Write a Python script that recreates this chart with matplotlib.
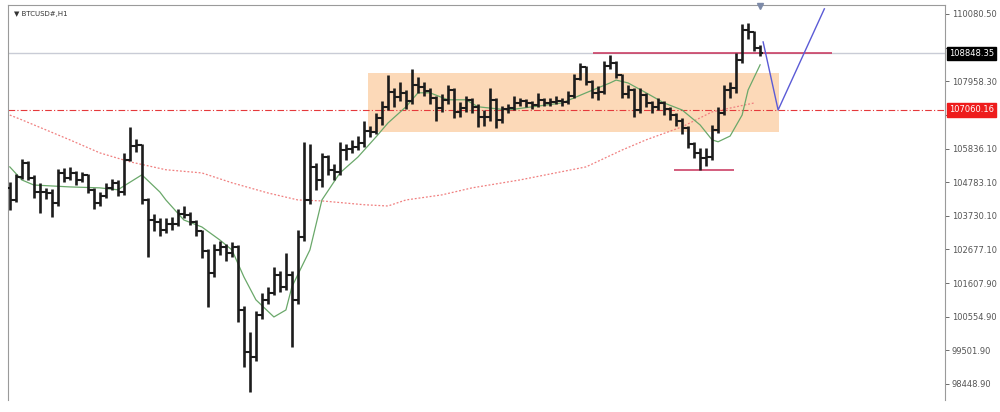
import matplotlib
matplotlib.use("Agg")
import matplotlib.pyplot as plt
import matplotlib.patches as patches
import matplotlib.transforms as mtransforms
import numpy as np

# H1 bars (open of each bar = previous close)
first_open = 104600
closes = [104230, 104960, 105400, 104920, 104480, 104470, 104450, 104140, 105080, 104920,
          105080, 104860, 105020, 104550, 104140, 104360, 104610, 104770, 104480, 105490,
          105930, 105960, 104230, 103600, 103540, 103290, 103480, 103460, 103790, 103770,
          103540, 103260, 102630, 101940, 102660, 102750, 102570, 102750, 100770, 99450,
          99300, 100620, 101090, 101310, 101870, 101500, 101870, 101090, 103070, 104230,
          105270, 104860, 105580, 105180, 105110, 105800, 105840, 105900, 106020, 106400,
          106380, 106810, 107160, 107630, 107470, 107600, 107340, 107850, 107790, 107660,
          107440, 107120, 107380, 107690, 107000, 107120, 107380, 107160, 106840, 106830,
          107380, 106750, 107090, 107120, 107280, 107340, 107280, 107220, 107380, 107280,
          107310, 107340, 107310, 107500, 108040, 108410, 107940, 107600, 107630, 108450,
          108540, 108160, 107570, 107690, 107060, 107530, 107280, 107160, 107270, 107090,
          106900, 106720, 106500, 105990, 105710, 105550, 105580, 106430, 106970, 107690,
          107750, 108630, 109580, 109510, 109010, 108850]
highs = [104800, 105050, 105520, 105460, 105000, 104750, 104620, 104560, 105200, 105250,
         105280, 105150, 105120, 105060, 104600, 104480, 104750, 104880, 104850, 105700,
         106530, 106150, 106000, 104300, 103800, 103650, 103650, 103700, 103950, 104050,
         103850, 103600, 103300, 102700, 102850, 102950, 102850, 102900, 102800, 100900,
         100080, 100750, 101300, 101500, 102130, 102000, 102570, 102000, 103300, 106050,
         106000, 105400, 105700, 105650, 105350, 106050, 106000, 106100, 106250, 106700,
         106550, 106950, 107350, 108150, 107750, 107950, 107700, 108350, 108100, 107950,
         107750, 107500, 107550, 107850, 107750, 107300, 107500, 107450, 107250, 107050,
         107750, 107450, 107200, 107250, 107500, 107450, 107400, 107350, 107600, 107450,
         107450, 107500, 107450, 107650, 108200, 108540, 108450, 108000, 107800, 108600,
         108790, 108600, 108200, 107850, 107750, 107750, 107600, 107350, 107450, 107350,
         107150, 106950, 106810, 106550, 106050, 105850, 105850, 106600, 107150, 107850,
         107950, 108850, 109750, 109780, 109550, 109100]
lows = [103900, 104180, 104900, 104850, 104300, 103830, 104250, 103700, 104050, 104800,
        104850, 104700, 104780, 104450, 103950, 104050, 104300, 104550, 104350, 104400,
        105450, 105750, 104100, 102440, 103250, 103100, 103200, 103300, 103400, 103650,
        103450, 103100, 102400, 100870, 101800, 102500, 102300, 102450, 100400, 98980,
        98200, 99150, 100500, 100950, 101250, 101350, 101400, 99610, 100950, 102950,
        104100, 104550, 104640, 105000, 104850, 105000, 105500, 105700, 105800, 105900,
        106200, 106300, 106600, 107050, 107150, 107350, 107100, 107250, 107600, 107500,
        107250, 106700, 107000, 107250, 106800, 106850, 107000, 106950, 106530, 106550,
        106700, 106500, 106650, 106950, 107050, 107200, 107150, 107100, 107150, 107200,
        107200, 107250, 107200, 107250, 107450, 108000, 107850, 107450, 107370, 107550,
        108350, 108050, 107450, 107450, 106840, 106950, 107150, 106950, 107050, 106900,
        106750, 106550, 106300, 105850, 105550, 105180, 105300, 105500, 106350, 106900,
        107450, 107600, 108550, 109300, 108900, 108750]

# moving averages (bar index, price)
ma_fast_idx = [0, 2, 4, 10, 15, 18, 22, 25, 26, 29, 32, 35, 37, 39, 41, 44, 46, 47, 50, 52, 55,
               58, 61, 63, 66, 68, 70, 73, 76, 78, 83, 92, 96, 100, 101, 103, 106, 109, 112,
               115, 117, 118, 120, 122, 123, 125]
ma_fast = [105270, 104860, 104700, 104640, 104610, 104550, 105020, 104480, 104230, 103600,
           103380, 102970, 102660, 101810, 101090, 100550, 100770, 101500, 102660, 104230,
           105080, 105580, 106210, 106650, 107160, 107600, 107600, 107380, 107380, 107160,
           107060, 107280, 107600, 107910, 108000, 107910, 107600, 107280, 107060, 106590,
           106120, 106060, 106240, 106900, 107690, 108480]
ma_slow_idx = [0, 2, 10, 15, 20, 26, 32, 37, 43, 48, 52, 59, 63, 66, 72, 77, 85, 96, 102,
               106, 112, 117, 124]
ma_slow = [106900, 106750, 106120, 105710, 105430, 105180, 105080, 104770, 104450, 104230,
           104200, 104080, 104040, 104230, 104390, 104610, 104860, 105270, 105800, 106120,
           106530, 107000, 107280]

# levels and drawings
bid = 108848.35
level_red = 107060.16
resistance = 108850
support = 105175
zone_top, zone_bottom = 108225, 106370
proj_idx = [125.5, 128, 135.7]
proj_px = [109200, 107060, 110240]
ticks = [110080.50, 109011.30, 107958.30, 106905.20, 105836.10, 104783.10,
         103730.10, 102677.10, 101607.90, 100554.90, 99501.90, 98448.90]
hidden = [109011.30, 106905.20]   # covered by the price boxes

fig = plt.figure(figsize=(10, 4.12), dpi=100)
ax = fig.add_axes([0.008, 0.03, 0.937, 0.958])

n = len(closes)
x = np.arange(n)
opens = [first_open] + closes[:-1]

ax.add_patch(patches.Rectangle((59.7, zone_bottom), 128.2 - 59.7, zone_top - zone_bottom,
                               facecolor="#fcd9b8", edgecolor="none", zorder=1))

ax.axhline(bid, color="#c9ccd6", lw=1, zorder=2)
ax.axhline(level_red, color="#e5393b", lw=0.8, ls=(0, (6, 2, 1, 2)), zorder=2)
ax.hlines(resistance, 97.2, 137, color="#c8325a", lw=1.1, zorder=3)
ax.hlines(support, 110.7, 120.7, color="#c8325a", lw=1.1, zorder=3)

ax.plot(ma_slow_idx, ma_slow, color="#f07f7f", lw=0.9, ls=(0, (1.5, 1.5)), zorder=3)
ax.plot(ma_fast_idx, ma_fast, color="#6aa86a", lw=0.9, zorder=4)

# bar chart
ax.vlines(x, lows, highs, color="#1c1c1c", lw=1.9, zorder=5)
ax.hlines(opens, x - 0.45, x, color="#1c1c1c", lw=1.5, zorder=5)
ax.hlines(closes, x, x + 0.45, color="#1c1c1c", lw=1.5, zorder=5)

ax.plot(proj_idx, proj_px, color="#5b5bd6", lw=1, zorder=6)
ax.plot([125], [110330], marker="v", color="#7d8aa8", markersize=5, clip_on=False, zorder=7)

ax.set_xlim(-0.3, 155.8)
ax.set_ylim(97950, 110363)

ax.set_xticks([])
ax.yaxis.tick_right()
ax.set_yticks(ticks)
ax.set_yticklabels(["" if t in hidden else f"{t:.2f}" for t in ticks])
ax.tick_params(axis="y", labelsize=6, colors="#555555", length=3, width=0.6, pad=2)
for s in ["left", "top", "right"]:
    ax.spines[s].set_color("#9a9a9a")
ax.spines["bottom"].set_visible(False)

trans = mtransforms.blended_transform_factory(ax.transAxes, ax.transData)
ax.text(1.004, bid, "108848.35", transform=trans, fontsize=6, color="white", va="center",
        ha="left", bbox=dict(boxstyle="square,pad=0.25", fc="black", ec="black"), zorder=10)
ax.text(1.004, level_red, "107060.16", transform=trans, fontsize=6, color="white", va="center",
        ha="left", bbox=dict(boxstyle="square,pad=0.25", fc="#ee1c1c", ec="#ee1c1c"), zorder=10)

ax.text(0.006, 0.985, "\u25bc BTCUSD#,H1", transform=ax.transAxes, fontsize=5,
        color="#333333", va="top", ha="left")

fig.savefig("out.png", dpi=100)
